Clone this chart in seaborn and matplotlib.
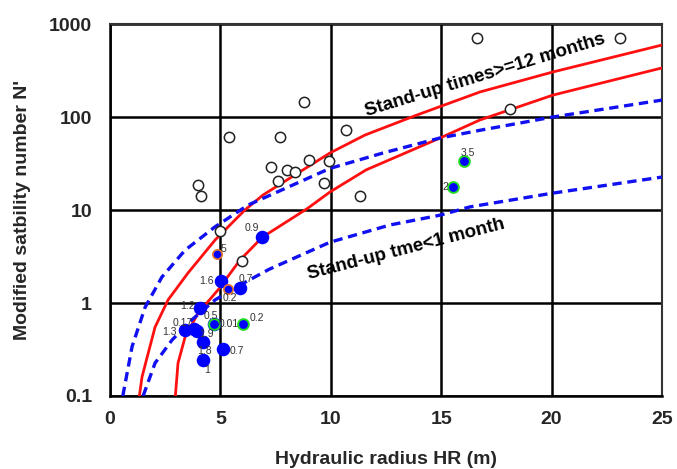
import matplotlib
matplotlib.use("Agg")
import matplotlib.pyplot as plt
import numpy as np
import pandas as pd
import seaborn as sns
from matplotlib.ticker import FixedLocator, LogLocator, NullFormatter, MultipleLocator

# ---- case histories without support (open circles) ----
open_hr = [16.6, 23.1, 8.8, 10.7, 5.4, 7.7, 18.1, 7.3, 8.0, 8.4, 9.0, 9.9,
           7.6, 9.7, 11.3, 4.0, 4.1, 5.0, 6.0]
open_n = [700, 700, 145, 72, 61, 61, 122, 29, 27, 25.6, 34.5, 33.6,
          20.5, 19.5, 14.1, 18.6, 14.1, 5.9, 2.8]

# ---- stand-up time cases (blue dots, label = stand-up time) ----
blue_hr = [6.88, 5.03, 5.89, 4.08, 3.40, 3.82, 3.95, 4.21, 5.12, 4.21, 4.71]
blue_n = [5.13, 1.72, 1.45, 0.88, 0.51, 0.53, 0.50, 0.38, 0.32, 0.244, 0.59]
blue_lab = ["0.9", "1.6", "0.7", "1.2", "1.3", "0.17", "1.9", "1.8", "0.7", "1", "0.01"]

green_hr = [4.71, 6.02, 16.03, 15.55]
green_n = [0.59, 0.59, 33.6, 17.7]
green_lab = ["0.5", "0.2", "3.5", "2"]

orange_hr = [4.85, 5.34]
orange_n = [3.36, 1.41]
orange_lab = ["5", "0.2"]

# ---- boundary curves ----
red_hi_hr = [1.33, 1.45, 1.68, 2.04, 2.63, 3.53, 4.76, 6.11, 6.93, 9.96, 11.55, 13.9, 16.76, 20.06, 25.0]
red_hi_n = [0.1, 0.16, 0.26, 0.55, 1.08, 2.1, 4.76, 10, 14.5, 41, 64, 105, 186, 305, 594]

red_lo_hr = [2.96, 3.03, 3.08, 3.4, 3.99, 4.89, 5.89, 6.9, 8.92, 9.96, 11.6, 14.95, 16.76, 20.06, 25.0]
red_lo_n = [0.1, 0.16, 0.226, 0.43, 0.78, 1.38, 2.9, 5.1, 10.3, 15.6, 27, 59.5, 93, 172, 337]

blue_hi_hr = [0.58, 1.0, 1.59, 2.35, 3.4, 4.76, 6.25, 9.96, 12.36, 14.95, 16.76, 20.06, 25.0]
blue_hi_n = [0.1, 0.34, 0.9, 1.9, 3.7, 6.6, 11.3, 28, 41, 59.5, 72, 100, 152]

blue_lo_hr = [1.5, 2.04, 2.81, 3.71, 4.76, 5.89, 7.2, 9.96, 12.68, 14.95, 16.3, 20.06, 25.0]
blue_lo_n = [0.1, 0.226, 0.4, 0.66, 1.08, 1.56, 2.3, 4.5, 6.9, 8.8, 10.8, 15.2, 22.6]

x_ticks = [0, 5, 10, 15, 20, 25]
y_ticks = [0.1, 1, 10, 100, 1000]
y_tick_labels = ["0.1", "1", "10", "100", "1000"]

# label placement in pixels relative to each point
blue_off = [(-10, 9), (-15, 0), (6, 9), (-13, 2), (-16, -2), (-12, 6), (9, -3),
            (2, -9), (14, -2), (4, -10), (15, 0)]
green_off = [(-3, 8), (14, 6), (4, 8), (-8, 0)]
orange_off = [(6, 5), (2, -9)]

sns.set_style("white")
plt.rcParams["font.family"] = ["Liberation Sans", "DejaVu Sans"]

fig = plt.figure(figsize=(6.77, 4.69), dpi=100)
ax = fig.add_axes([110 / 677, 1 - 396 / 469, 552 / 677, 372 / 469])

RED = "#FF1010"
BLUE = "#1010F0"

for hr, n, col, ls in [(red_hi_hr, red_hi_n, RED, "-"), (red_lo_hr, red_lo_n, RED, "-"),
                       (blue_hi_hr, blue_hi_n, BLUE, "--"), (blue_lo_hr, blue_lo_n, BLUE, "--")]:
    df = pd.DataFrame({"hr": hr, "n": n})
    sns.lineplot(data=df, x="hr", y="n", ax=ax, color=col, sort=False,
                 estimator=None, zorder=3,
                 linewidth=2.0 if ls == "-" else 2.4)
    line = ax.lines[-1]
    if ls == "--":
        line.set_dashes((2.8, 1.7))

df_open = pd.DataFrame({"hr": open_hr, "n": open_n})
sns.scatterplot(data=df_open, x="hr", y="n", ax=ax, s=55, facecolor="white",
                edgecolor="#222222", linewidth=1.1, zorder=4)

df_blue = pd.DataFrame({"hr": blue_hr, "n": blue_n})
sns.scatterplot(data=df_blue, x="hr", y="n", ax=ax, s=95, color="#0000FF",
                edgecolor="#0000FF", linewidth=0, zorder=5)

df_green = pd.DataFrame({"hr": green_hr, "n": green_n})
sns.scatterplot(data=df_green, x="hr", y="n", ax=ax, s=60, color="#0000FF",
                edgecolor="#22DD22", linewidth=1.4, zorder=6)

df_orange = pd.DataFrame({"hr": orange_hr, "n": orange_n})
sns.scatterplot(data=df_orange, x="hr", y="n", ax=ax, s=45, color="#0000FF",
                edgecolor="#E8772E", linewidth=1.2, zorder=6)

for hrs, ns, labs, offs in [(blue_hr, blue_n, blue_lab, blue_off),
                            (green_hr, green_n, green_lab, green_off),
                            (orange_hr, orange_n, orange_lab, orange_off)]:
    for xv, yv, lab, (dx, dy) in zip(hrs, ns, labs, offs):
        ax.annotate(lab, (xv, yv), xytext=(dx, dy), textcoords="offset pixels",
                    ha="center", va="center", fontsize=7.5, color="#333333", zorder=7)

ax.text(16.98, 283, "Stand-up times>=12 months", rotation=17, ha="center", va="center",
        fontsize=13.5, fontweight="bold", color="black", rotation_mode="anchor")
ax.text(13.4, 3.8, "Stand-up tme<1 month", rotation=14.5, ha="center", va="center",
        fontsize=13.5, fontweight="bold", color="black", rotation_mode="anchor")

ax.set_yscale("log")
ax.set_xlim(0, 25)
ax.set_ylim(0.1, 1000)
ax.xaxis.set_major_locator(FixedLocator(x_ticks))
ax.xaxis.set_minor_locator(MultipleLocator(1))
ax.yaxis.set_major_locator(FixedLocator(y_ticks))
ax.yaxis.set_minor_locator(LogLocator(base=10, subs=np.arange(2, 10)))
ax.yaxis.set_minor_formatter(NullFormatter())
ax.set_xticklabels([str(t) for t in x_ticks])
ax.set_yticklabels(y_tick_labels)

ax.grid(True, which="major", color="black", linewidth=1.8)
ax.set_axisbelow(True)
for side in ["left", "bottom"]:
    ax.spines[side].set_color("black")
    ax.spines[side].set_linewidth(1.8)
for side in ["top", "right"]:
    ax.spines[side].set_color("#333333")
    ax.spines[side].set_linewidth(1.5)

ax.tick_params(which="major", direction="inout", length=10, width=1.5, color="black",
               labelsize=14, pad=6)
ax.tick_params(which="minor", direction="inout", length=8, width=1.3, color="black")
ax.tick_params(axis="y", which="major", pad=8)
for lab in ax.get_xticklabels() + ax.get_yticklabels():
    lab.set_fontweight("bold")

ax.set_xlabel("Hydraulic radius HR (m)", fontsize=14, fontweight="bold", labelpad=16)
ax.set_ylabel("Modified satbility number N'", fontsize=14, fontweight="bold", labelpad=13)

fig.savefig("out.png", dpi=100)
